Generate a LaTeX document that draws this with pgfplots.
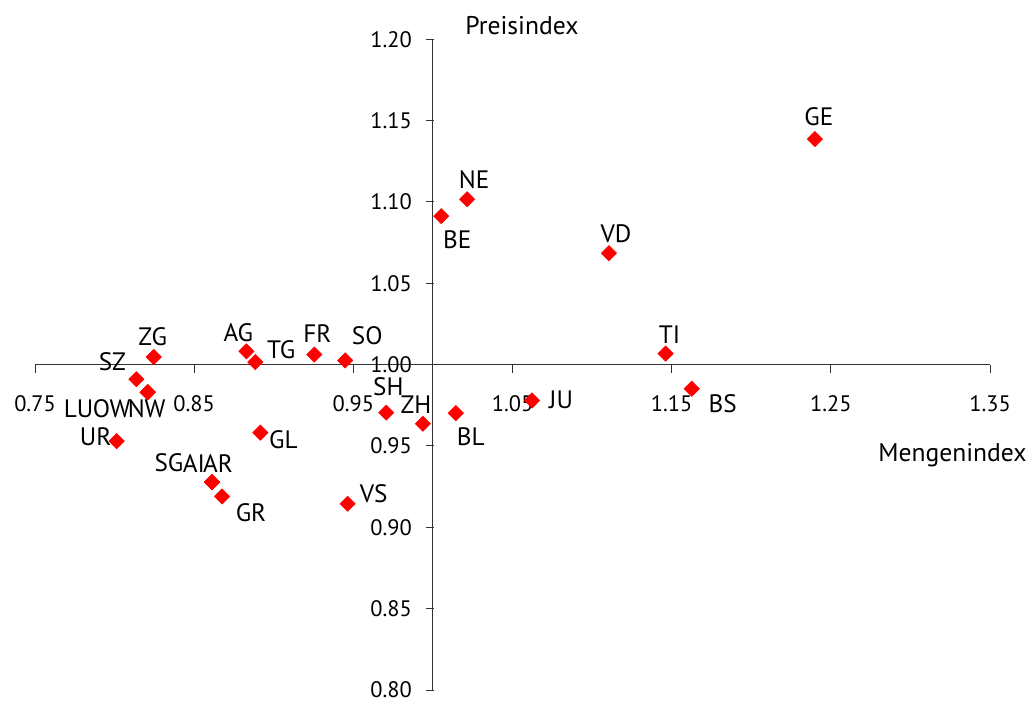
\documentclass[border=0pt]{standalone}
\usepackage{pgfplots}
\pgfplotsset{compat=1.18}
\usepackage{pgfplotstable}
\usepackage{fontspec}
\setmainfont{PT Sans}

% Kantone: Mengenindex (x), Preisindex (y), Label-Versatz in px (dx rechts, dy oben)
\pgfplotstableread{
lab x      y      dx   dy
GE  1.2400 1.1387   4   22
NE  1.0215 1.1017   7   20
BE  1.0052 1.0913  16  -24
VD  1.1106 1.0685   7   20
TI  1.1462 1.0068   4   19
BS  1.1626 0.9852  31  -15
JU  1.0623 0.9780  29    1
BL  1.0144 0.9702  15  -24
ZH  0.9937 0.9637  -7   19
SH  0.9707 0.9705   2   26
VS  0.9464 0.9145  26   10
SO  0.9449 1.0026  22   25
FR  0.9255 1.0062   3   21
TG  0.8884 1.0016  26   12
AG  0.8828 1.0082  -8   19
GL  0.8916 0.9582  23   -7
GR  0.8675 0.9190  29  -16
SG  0.8612 0.9278 -43   19
AI  0.8612 0.9278 -18   19
AR  0.8612 0.9278   6   19
ZG  0.8246 1.0047  -1   20
SZ  0.8137 0.9910 -24   18
LU  0.8208 0.9831 -69  -17
OW  0.8208 0.9831 -36  -17
NW  0.8208 0.9831  -1  -17
UR  0.8013 0.9530 -21    4
}\kantone

\begin{document}
\begin{tikzpicture}
\begin{axis}[
    scale only axis,
    width=477.5pt, height=325.35pt,
    xmin=-0.25, xmax=0.35,
    ymin=-0.2, ymax=0.2,
    axis lines=middle,
    axis line style={black!80, line width=0.5pt, -},
    hide obscured x ticks=false,
    hide obscured y ticks=false,
    xtick={-0.25,-0.15,-0.05,0.05,0.15,0.25,0.35},
    xticklabels={0.75,0.85,0.95,1.05,1.15,1.25,1.35},
    ytick={-0.2,-0.15,-0.1,-0.05,0,0.05,0.1,0.15,0.2},
    yticklabels={0.80,0.85,0.90,0.95,1.00,1.05,1.10,1.15,1.20},
    minor tick num=0,
    tick style={black!80, line width=0.5pt},
    xtick style={yshift=-2pt},
    ytick style={xshift=-1.5pt},
    major tick length=4pt,
    xticklabel style={font=\fontsize{11.2}{13}\selectfont, anchor=north, yshift=-10pt},
    yticklabel style={font=\fontsize{11.2}{13}\selectfont, anchor=east, xshift=-5pt},
    every axis x label/.style={at={(axis description cs:1.0387,0.3611)}, anchor=east,
        inner sep=0pt, font=\fontsize{12.8}{15}\selectfont},
    every axis y label/.style={at={(axis description cs:0.4503,1.0205)}, anchor=west,
        inner sep=0pt, font=\fontsize{12.8}{15}\selectfont},
    xlabel={Mengenindex},
    ylabel={Preisindex},
    clip=false,
]
\addplot[only marks, mark=square*, mark size=2.65pt, color=red,
    mark options={rotate=45},
    x filter/.expression={x-1},
    y filter/.expression={y-1},
    point meta=explicit symbolic,
    visualization depends on={\thisrow{dx} \as \lx},
    visualization depends on={\thisrow{dy} \as \ly},
    nodes near coords,
    nodes near coords style={anchor=center, xshift=\lx*0.5pt, yshift=\ly*0.5pt,
        text=black, font=\fontsize{12.6}{15}\selectfont}]
    table[x=x, y=y, meta=lab] {\kantone};
\end{axis}
\pgfresetboundingbox
\path ([shift={(-17.5pt,-6pt)}]current axis.south west)
    rectangle ([shift={(20.5pt,19.65pt)}]current axis.north east);
\end{tikzpicture}
\end{document}
